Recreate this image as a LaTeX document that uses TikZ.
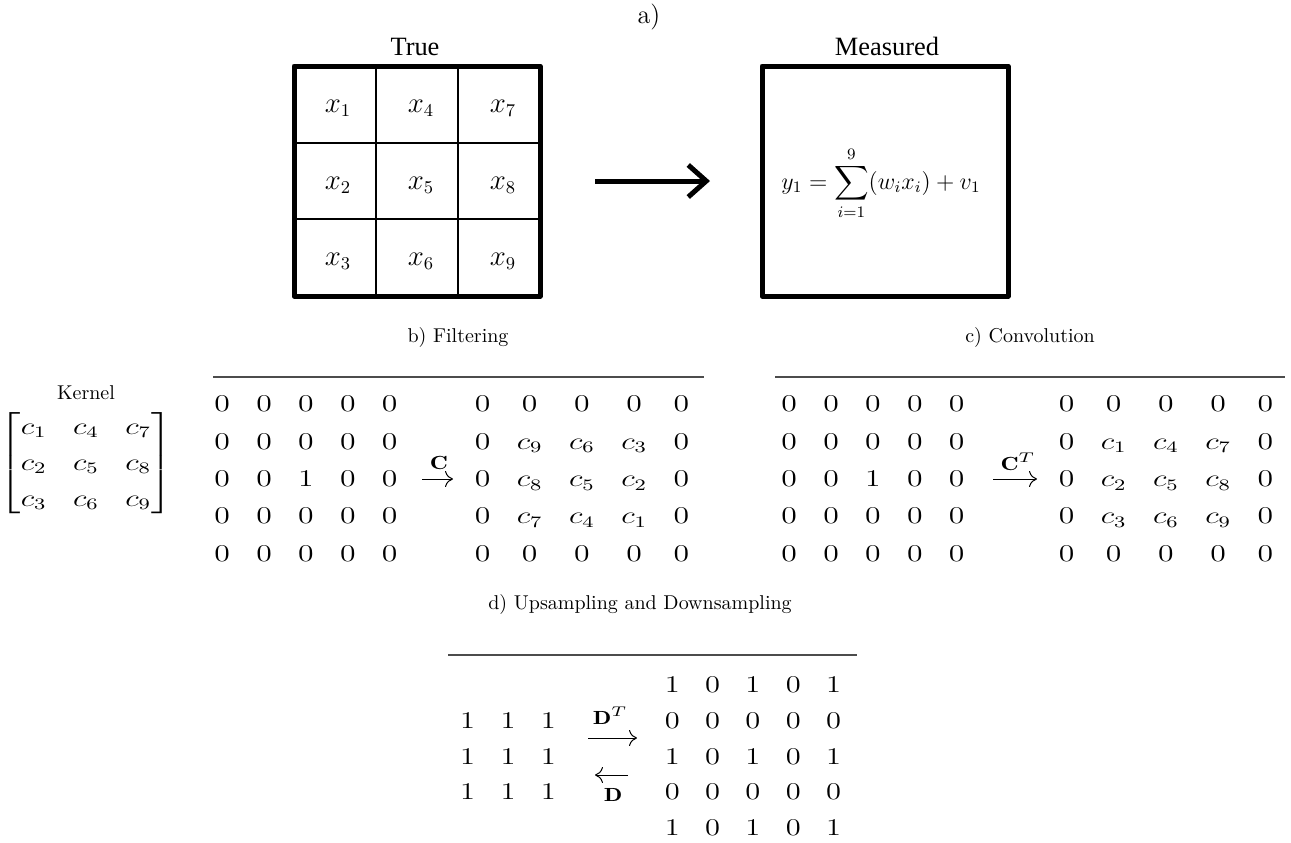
\documentclass[tikz,border=0pt]{standalone}
\usepackage{amsmath}
\usepackage{graphicx}
\usepackage{fontspec}
\newfontfamily\timesfont{Liberation Serif}
\usetikzlibrary{arrows.meta,calc}
% horizontal stretch for the matrix panels
\newcommand{\hstretch}[2]{\scalebox{#1}[1]{#2}}
\begin{document}
\begin{tikzpicture}[x=0.5pt,y=-0.5pt,
  bigbox/.style={draw,line width=2.5pt,minimum width=123pt,minimum height=115pt,
                 inner sep=0pt,outer sep=0pt,line join=round},
  gridline/.style={line width=1pt},
  cellvar/.style={font=\fontsize{13.5}{16}\selectfont,inner sep=0pt},
  sumtext/.style={font=\fontsize{12}{14}\selectfont,inner sep=0pt},
  titletext/.style={font=\timesfont\fontsize{13.2}{15}\selectfont,inner sep=0pt},
  sectitle/.style={font=\fontsize{10}{12}\selectfont,inner sep=0pt},
  seprule/.style={draw=black!70,line width=0.8pt},
  mat/.style={font=\fontsize{12}{14.5}\selectfont,inner sep=0pt},
  arrlabel/.style={font=\fontsize{9.5}{11}\selectfont,inner sep=0pt},
  cmarrow/.style={line width=0.5pt,-{To[length=4pt,width=8pt]}},
  bigarrow/.style={line width=2.5pt,-{Straight Barb[length=9pt,width=16pt]}}
]
\useasboundingbox (0,0) rectangle (1291,842);

% ---------- a) true image and measurement ----------
\node[font=\fontsize{13}{15}\selectfont,inner sep=0pt] (ha) at (649,17) {a)};
\node[bigbox] (grid) at (417,181) {};
\node[bigbox] (meas) at (885,181) {};
\node[titletext] (ttrue) at (415,47) {True};
\node[titletext] (tmeas) at (887,46) {Measured};

\draw[gridline] ($(grid.north west)!1/3!(grid.north east)$) -- ($(grid.south west)!1/3!(grid.south east)$);
\draw[gridline] ($(grid.north west)!2/3!(grid.north east)$) -- ($(grid.south west)!2/3!(grid.south east)$);
\draw[gridline] ($(grid.north west)!1/3!(grid.south west)$) -- ($(grid.north east)!1/3!(grid.south east)$);
\draw[gridline] ($(grid.north west)!2/3!(grid.south west)$) -- ($(grid.north east)!2/3!(grid.south east)$);

\node[cellvar] (x1) at (338,108) {$x_1$};
\node[cellvar] (x4) at (421,108) {$x_4$};
\node[cellvar] (x7) at (503,108) {$x_7$};
\node[cellvar] (x2) at (338,185) {$x_2$};
\node[cellvar] (x5) at (421,185) {$x_5$};
\node[cellvar] (x8) at (503,185) {$x_8$};
\node[cellvar] (x3) at (338,261) {$x_3$};
\node[cellvar] (x6) at (421,261) {$x_6$};
\node[cellvar] (x9) at (503,261) {$x_9$};

\node[sumtext] (sumeq) at (881,183) {$\displaystyle y_1=\sum_{i=1}^{9}(w_i x_i)+v_1$};

\draw[bigarrow,shorten <=27.5pt,shorten >=26pt] (grid.east) -- (meas.west);

% ---------- b) filtering ----------
\node[sectitle] (hb) at (458,337) {b) Filtering};
\draw[seprule] (213,377) -- (704,377);
\node[sectitle] (klbl) at (86,393) {Kernel};
\node[mat] (kern) at (86,463) {\hstretch{1.32}{$\renewcommand\arraystretch{1.24}
  \begin{bmatrix} c_1 & c_4 & c_7\\ c_2 & c_5 & c_8\\ c_3 & c_6 & c_9\end{bmatrix}$}};

\node[mat] (bL) at (306,479) {\hstretch{1.32}{$\renewcommand\arraystretch{1.29}
  \begin{array}{ccccc}
  0&0&0&0&0\\ 0&0&0&0&0\\ 0&0&1&0&0\\ 0&0&0&0&0\\ 0&0&0&0&0
  \end{array}$}};
\node[mat] (bR) at (582,479) {\hstretch{1.32}{$\renewcommand\arraystretch{1.29}
  \begin{array}{ccccc}
  0&0&0&0&0\\ 0&c_9&c_6&c_3&0\\ 0&c_8&c_5&c_2&0\\ 0&c_7&c_4&c_1&0\\ 0&0&0&0&0
  \end{array}$}};
\draw[cmarrow,shorten <=58pt,shorten >=64.5pt] (bL.center) -- (bR.center);
\node[arrlabel] (lC) at (439,463) {\hstretch{1.32}{$\mathbf{C}$}};

% ---------- c) convolution ----------
\node[sectitle] (hc) at (1030,337) {c) Convolution};
\draw[seprule] (775,377) -- (1285,377);
\node[mat] (cL) at (873,479) {\hstretch{1.32}{$\renewcommand\arraystretch{1.29}
  \begin{array}{ccccc}
  0&0&0&0&0\\ 0&0&0&0&0\\ 0&0&1&0&0\\ 0&0&0&0&0\\ 0&0&0&0&0
  \end{array}$}};
\node[mat] (cR) at (1166,479) {\hstretch{1.32}{$\renewcommand\arraystretch{1.29}
  \begin{array}{ccccc}
  0&0&0&0&0\\ 0&c_1&c_4&c_7&0\\ 0&c_2&c_5&c_8&0\\ 0&c_3&c_6&c_9&0\\ 0&0&0&0&0
  \end{array}$}};
\draw[cmarrow,shorten <=60pt,shorten >=64.5pt] (cL.center) -- (cR.center);
\node[arrlabel] (lCT) at (1018,462) {\hstretch{1.32}{$\mathbf{C}^T$}};

% ---------- d) upsampling and downsampling ----------
\node[sectitle] (hd) at (640,604) {d) Upsampling and Downsampling};
\draw[seprule] (448,655) -- (857,655);
\node[mat] (dL) at (508,757) {\hstretch{1.27}{$\renewcommand\arraystretch{1.23}
  \begin{array}{ccc}
  1&1&1\\ 1&1&1\\ 1&1&1
  \end{array}$}};
\node[mat] (dR) at (753,757) {\hstretch{1.27}{$\renewcommand\arraystretch{1.23}
  \begin{array}{ccccc}
  1&0&1&0&1\\ 0&0&0&0&0\\ 1&0&1&0&1\\ 0&0&0&0&0\\ 1&0&1&0&1
  \end{array}$}};
\draw[cmarrow,shorten <=40pt,shorten >=58pt] ([yshift=9.5pt]dL.center) -- ([yshift=9.5pt]dR.center);
\draw[cmarrow,shorten <=62.5pt,shorten >=43.5pt] ([yshift=-9pt]dR.center) -- ([yshift=-9pt]dL.center);
\node[arrlabel] (lDT) at (610,716) {\hstretch{1.27}{$\mathbf{D}^T$}};
\node[arrlabel] (lD) at (613,795) {\hstretch{1.27}{$\mathbf{D}$}};
\end{tikzpicture}
\end{document}
